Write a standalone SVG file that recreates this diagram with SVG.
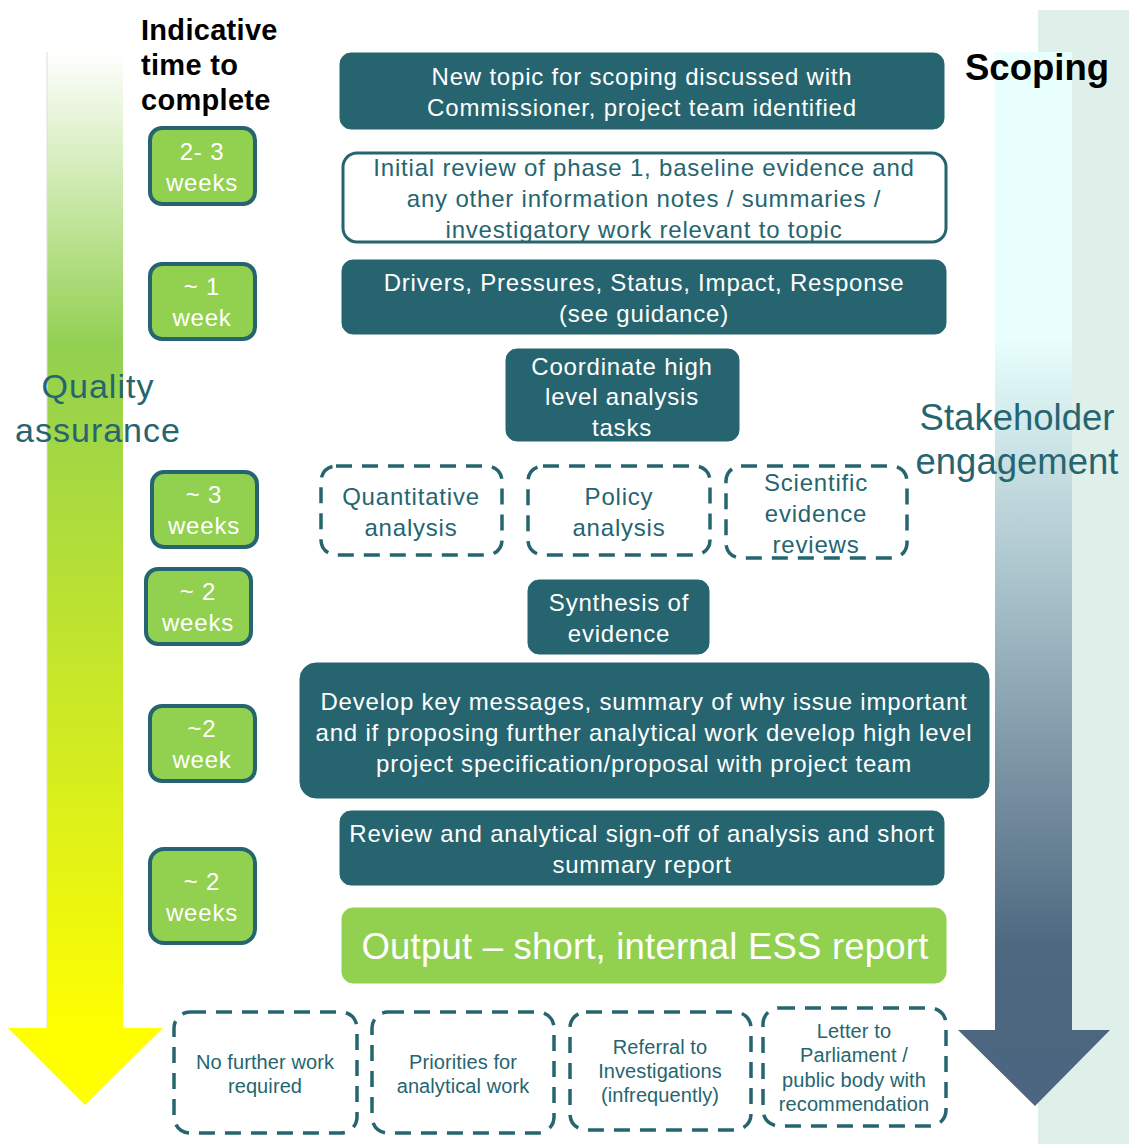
<svg xmlns="http://www.w3.org/2000/svg" width="1129" height="1144" viewBox="0 0 1129 1144">
<defs>
<linearGradient id="gl" gradientUnits="userSpaceOnUse" x1="0" y1="52" x2="0" y2="1105">
<stop offset="0" stop-color="#ffffff"/>
<stop offset="0.28" stop-color="#92d050"/>
<stop offset="0.93" stop-color="#ffff00"/>
<stop offset="1" stop-color="#ffff00"/>
</linearGradient>
<linearGradient id="gr" gradientUnits="userSpaceOnUse" x1="0" y1="52" x2="0" y2="1105">
<stop offset="0" stop-color="#e8fffd"/>
<stop offset="0.27" stop-color="#e8fffd"/>
<stop offset="0.85" stop-color="#4e6880"/>
<stop offset="1" stop-color="#4c6580"/>
</linearGradient>
<style>
text{font-family:"Liberation Sans",Arial,sans-serif}
.dk{fill:#266570;stroke:#266570}
.wt{fill:#ffffff;font-size:24px;letter-spacing:0.8px;text-anchor:middle}
.tl{fill:#266570;font-size:24px;letter-spacing:0.8px;text-anchor:middle}
.tm{fill:#92d050;stroke:#266570;stroke-width:4}
.ds{fill:#ffffff;stroke:#266570;stroke-width:3.5;stroke-dasharray:16 10}
.sm{fill:#266570;font-size:20px;letter-spacing:0.1px;text-anchor:middle}
.hd{fill:#000;font-weight:bold}
</style>
</defs>
<rect x="0" y="0" width="1129" height="1144" fill="#ffffff"/>
<g id="background">
<rect x="1038" y="10" width="91" height="1134" fill="#dff0eb"/>
<path d="M47 52 H123 V1028 H163 L85 1105 L8 1028 H47 Z" fill="url(#gl)"/>
<line x1="47" y1="52" x2="47" y2="1028" stroke="#dddddd" stroke-width="1"/>
<path d="M995 52 H1072 V1030 H1110 L1035 1106 L958 1030 H995 Z" fill="url(#gr)"/>
</g>
<g id="headers">
<text class="hd" x="141" y="40" font-size="29" letter-spacing="0.3">Indicative</text>
<text class="hd" x="141" y="75" font-size="29" letter-spacing="0.3">time to</text>
<text class="hd" x="141" y="110" font-size="29" letter-spacing="0.3">complete</text>
<text class="hd" x="965" y="80" font-size="36.5">Scoping</text>
<text x="98" y="398" font-size="34" letter-spacing="1" fill="#266570" text-anchor="middle">Quality</text>
<text x="98" y="442" font-size="34" letter-spacing="1" fill="#266570" text-anchor="middle">assurance</text>
<text x="1017" y="430" font-size="36.5" fill="#266570" text-anchor="middle">Stakeholder</text>
<text x="1017" y="474" font-size="36.5" fill="#266570" text-anchor="middle">engagement</text>
</g>
<g id="connectors"></g>
<g id="t1"><rect class="tm" x="150" y="128" width="105" height="76" rx="12"/><text class="wt" x="202" y="160">2- 3</text><text class="wt" x="202" y="191">weeks</text></g>
<g id="t2"><rect class="tm" x="150" y="264" width="105" height="75" rx="12"/><text class="wt" x="202" y="295">~ 1</text><text class="wt" x="202" y="326">week</text></g>
<g id="t3"><rect class="tm" x="152" y="472" width="105" height="75" rx="12"/><text class="wt" x="204" y="503">~ 3</text><text class="wt" x="204" y="534">weeks</text></g>
<g id="t4"><rect class="tm" x="146" y="569" width="105" height="75" rx="12"/><text class="wt" x="198" y="600">~ 2</text><text class="wt" x="198" y="631">weeks</text></g>
<g id="t5"><rect class="tm" x="150" y="706" width="105" height="75" rx="12"/><text class="wt" x="202" y="737">~2</text><text class="wt" x="202" y="768">week</text></g>
<g id="t6"><rect class="tm" x="150" y="849" width="105" height="94" rx="14"/><text class="wt" x="202" y="890">~ 2</text><text class="wt" x="202" y="921">weeks</text></g>
<g id="n1"><rect class="dk" x="340" y="53" width="604" height="76" rx="11"/><text class="wt" x="642" y="85">New topic for scoping discussed with</text><text class="wt" x="642" y="116">Commissioner, project team identified</text></g>
<g id="n2"><rect x="343" y="153" width="603" height="89" rx="14" fill="#ffffff" stroke="#266570" stroke-width="3"/><text class="tl" x="644" y="176">Initial review of phase 1, baseline evidence and</text><text class="tl" x="644" y="207">any other information notes / summaries /</text><text class="tl" x="644" y="238">investigatory work relevant to topic</text></g>
<g id="n3"><rect class="dk" x="342" y="260" width="604" height="74" rx="11"/><text class="wt" x="644" y="291">Drivers, Pressures, Status, Impact, Response</text><text class="wt" x="644" y="322">(see guidance)</text></g>
<g id="n4"><rect class="dk" x="506" y="349" width="233" height="92" rx="11"/><text class="wt" x="622" y="375">Coordinate high</text><text class="wt" x="622" y="405">level analysis</text><text class="wt" x="622" y="436">tasks</text></g>
<g id="n5"><rect class="ds" x="321" y="466" width="181" height="89" rx="15"/><text class="tl" x="411" y="505">Quantitative</text><text class="tl" x="411" y="536">analysis</text></g>
<g id="n6"><rect class="ds" x="528" y="466" width="182" height="89" rx="15"/><text class="tl" x="619" y="505">Policy</text><text class="tl" x="619" y="536">analysis</text></g>
<g id="n7"><rect class="ds" x="726" y="466" width="181" height="92" rx="15"/><text class="tl" x="816" y="491">Scientific</text><text class="tl" x="816" y="522">evidence</text><text class="tl" x="816" y="553">reviews</text></g>
<g id="n8"><rect class="dk" x="528" y="580" width="181" height="74" rx="11"/><text class="wt" x="619" y="611">Synthesis of</text><text class="wt" x="619" y="642">evidence</text></g>
<g id="n9"><rect class="dk" x="300" y="663" width="689" height="135" rx="16"/><text class="wt" x="644" y="710">Develop key messages, summary of why issue important</text><text class="wt" x="644" y="741">and if proposing further analytical work develop high level</text><text class="wt" x="644" y="772">project specification/proposal with project team</text></g>
<g id="n10"><rect class="dk" x="340" y="811" width="604" height="74" rx="11"/><text class="wt" x="642" y="842">Review and analytical sign-off of analysis and short</text><text class="wt" x="642" y="873">summary report</text></g>
<g id="n11"><rect x="342" y="908" width="604" height="75" rx="11" fill="#92d050" stroke="#92d050"/><text x="645" y="959" fill="#ffffff" font-size="36.5" letter-spacing="0.2" text-anchor="middle">Output – short, internal ESS report</text></g>
<g id="n12"><rect class="ds" x="174" y="1012" width="183" height="121" rx="16"/><text class="sm" x="265" y="1069">No further work</text><text class="sm" x="265" y="1093">required</text></g>
<g id="n13"><rect class="ds" x="372" y="1012" width="182" height="121" rx="16"/><text class="sm" x="463" y="1069">Priorities for</text><text class="sm" x="463" y="1093">analytical work</text></g>
<g id="n14"><rect class="ds" x="570" y="1012" width="181" height="118" rx="16"/><text class="sm" x="660" y="1054">Referral to</text><text class="sm" x="660" y="1078">Investigations</text><text class="sm" x="660" y="1102">(infrequently)</text></g>
<g id="n15"><rect class="ds" x="763" y="1008" width="183" height="118" rx="16"/><text class="sm" x="854" y="1038">Letter to</text><text class="sm" x="854" y="1062">Parliament /</text><text class="sm" x="854" y="1087">public body with</text><text class="sm" x="854" y="1111">recommendation</text></g>
</svg>
